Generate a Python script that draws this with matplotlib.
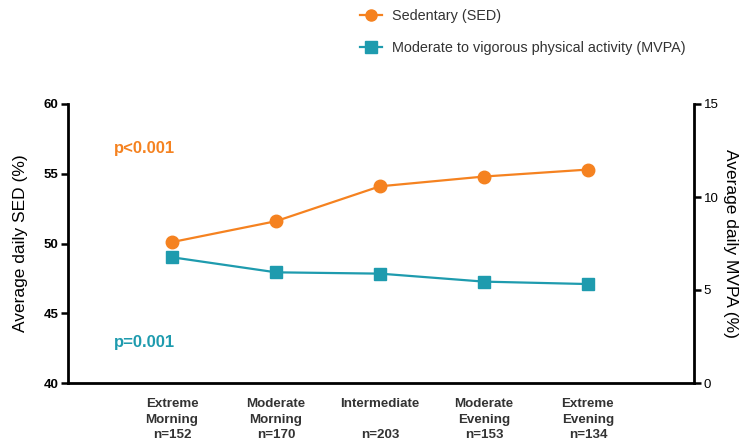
import matplotlib
matplotlib.use("Agg")
import matplotlib.pyplot as plt
from matplotlib.lines import Line2D

plt.rcParams['font.family'] = ['Liberation Sans', 'DejaVu Sans']

categories = ["Extreme\nMorning\nn=152", "Moderate\nMorning\nn=170", "Intermediate\n\nn=203",
              "Moderate\nEvening\nn=153", "Extreme\nEvening\nn=134"]
sed = [50.1, 51.6, 54.1, 54.8, 55.3]
mvpa = [6.76, 5.95, 5.88, 5.45, 5.32]
left_ticks = [40, 45, 50, 55, 60]
right_ticks = [0, 5, 10, 15]

orange = "#F58220"
teal = "#1E9BAE"

fig = plt.figure(figsize=(7.51, 4.41), dpi=100)
ax = fig.add_axes([68/751, 1-383/441, (694-68)/751, (383-104)/441])
ax2 = ax.twinx()

x = list(range(len(categories)))
ax.plot(x, sed, color=orange, marker='o', markersize=9, linewidth=1.6, zorder=3)
ax2.plot(x, mvpa, color=teal, marker='s', markersize=8.5, linewidth=1.6, zorder=3)

ax.set_xlim(-1, 5.02)
ax.set_ylim(40, 60)
ax2.set_ylim(0, 15)
ax.set_yticks(left_ticks)
ax2.set_yticks(right_ticks)
ax.set_xticks(x)
ax.set_xticklabels(categories, fontsize=9.6, fontweight='bold', color='#333333', linespacing=1.4)
ax.tick_params(axis='x', length=0, pad=11)
ax.tick_params(axis='y', length=5, width=1.8, labelsize=9.5, pad=2)
for lab in ax.get_yticklabels():
    lab.set_fontweight('bold')
ax2.tick_params(axis='y', length=5, width=1.8, labelsize=9.5, pad=2)

for a in (ax, ax2):
    a.spines['top'].set_visible(False)
    for s in ('left', 'right', 'bottom'):
        a.spines[s].set_linewidth(2)
ax2.spines['left'].set_visible(False)
ax2.spines['bottom'].set_visible(False)
ax.spines['right'].set_visible(False)

ax.set_ylabel("Average daily SED (%)", fontsize=12.5, labelpad=11)
ax2.set_ylabel("Average daily MVPA (%)", fontsize=12.5, rotation=270, labelpad=14)

ax.text(-0.56, 56.5, "p<0.001", color=orange, fontsize=12, fontweight='bold')
ax.text(-0.56, 42.6, "p=0.001", color=teal, fontsize=12, fontweight='bold')

handles = [Line2D([0], [0], color=orange, marker='o', markersize=8, linewidth=1.6),
           Line2D([0], [0], color=teal, marker='s', markersize=8, linewidth=1.6)]
fig.legend(handles, ["Sedentary (SED)", "Moderate to vigorous physical activity (MVPA)"],
           loc='upper left', bbox_to_anchor=(347/751, 1.008), frameon=False, fontsize=10.4,
           handlelength=1.5, labelspacing=1.2, handletextpad=0.7, labelcolor='#333333')

fig.savefig("out.png", dpi=100)
